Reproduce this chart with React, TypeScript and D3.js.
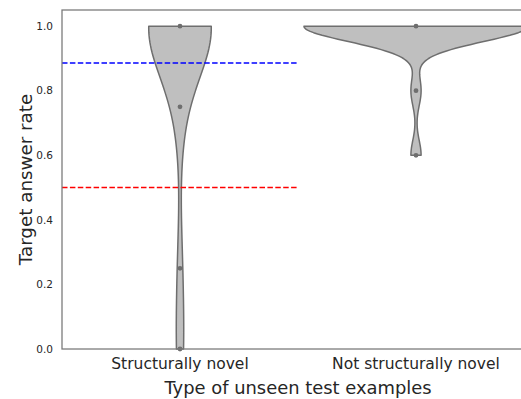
import React from 'react';
import * as d3 from 'd3';

const categories = ['Structurally novel', 'Not structurally novel'];
// answer rates per unseen test example
const structuralRates = [
  1, 1, 1, 1, 1, 1, 1, 1, 1, 1, 1, 1, 1, 1, 1, 1, 1, 1, 1, 1, 1, 1, 1, 1, 1, 1, 1, 1, 1, 1,
  0.75, 0.75, 0.75, 0.25, 0.25, 0.0, 0.0, 0.0,
];
const nonStructuralRates = [1, 1, 1, 1, 1, 1, 1, 1, 1, 1, 1, 1, 1, 1, 1, 1, 1, 1, 1, 1, 1, 1, 0.8, 0.6];
const yTicks = [0, 0.2, 0.4, 0.6, 0.8, 1.0];
const blueLine = 0.886;
const redLine = 0.5;

const W = 521;
const H = 399;
const margin = { top: 10, left: 62, bottom: 50 };
const plotRight = 534;

// gaussian kde with scott bandwidth, cut at data range
const kde = (values: number[]) => {
  const n = values.length;
  const sd = d3.deviation(values) || 0.01;
  const bw = sd * Math.pow(n, -1 / 5);
  const [lo, hi] = d3.extent(values) as [number, number];
  const grid = d3.range(100).map(i => lo + ((hi - lo) * i) / 99);
  return grid.map(y => {
    const dens = d3.sum(values, v => Math.exp(-0.5 * ((y - v) / bw) ** 2)) / (n * bw * Math.sqrt(2 * Math.PI));
    return { y, d: dens };
  });
};

export default function App() {
  const x = d3.scaleLinear().domain([-0.5, 1.5]).range([margin.left, plotRight]);
  const y = d3.scaleLinear().domain([0, 1.05]).range([H - margin.bottom, margin.top]);

  const groups = [structuralRates, nonStructuralRates];
  const dens = groups.map(kde);
  const maxD = d3.max(dens.flat(), p => p.d) as number;
  const halfWidth = 0.475;

  const area = (i: number) =>
    d3.area<{ y: number; d: number }>()
      .y(p => y(p.y))
      .x0(p => x(i - (p.d / maxD) * halfWidth))
      .x1(p => x(i + (p.d / maxD) * halfWidth))
      .curve(d3.curveLinear);

  const font = 'DejaVu Sans, sans-serif';
  const txt = '#262626';

  return (
    <svg width={W} height={H} style={{ position: 'absolute', left: 0, top: 0 }} fontFamily={font}>
      <rect width={W} height={H} fill="#fff" />
      {dens.map((dd, i) => (
        <g key={categories[i]}>
          <path d={area(i)(dd) as string} fill="#bfbfbf" stroke="#6e6e6e" strokeWidth={1.5} strokeLinejoin="round" />
          {Array.from(new Set(groups[i])).map((v, j) => (
            <circle key={j} cx={x(i)} cy={y(v)} r={2.4} fill="#6e6e6e" />
          ))}
        </g>
      ))}
      <line x1={x(-0.5)} x2={x(0.5)} y1={y(blueLine)} y2={y(blueLine)} stroke="#0000ff" strokeWidth={1.5} strokeDasharray="5.5,2.4" />
      <line x1={x(-0.5)} x2={x(0.5)} y1={y(redLine)} y2={y(redLine)} stroke="#ff0000" strokeWidth={1.5} strokeDasharray="5.5,2.4" />
      <rect x={margin.left} y={margin.top} width={plotRight - margin.left} height={H - margin.bottom - margin.top} fill="none" stroke="#777" strokeWidth={1.25} />
      {yTicks.map(t => (
        <text key={t} x={53} y={y(t)} dy="0.35em" textAnchor="end" fontSize={10.5} fill={txt}>
          {t.toFixed(1)}
        </text>
      ))}
      {categories.map((c, i) => (
        <text key={c} x={x(i)} y={369} textAnchor="middle" fontSize={15.5} fill={txt}>
          {c}
        </text>
      ))}
      <text x={(margin.left + plotRight) / 2} y={394} textAnchor="middle" fontSize={17.9} fill={txt}>
        Type of unseen test examples
      </text>
      <text transform={`translate(32, ${y(0.525)}) rotate(-90)`} textAnchor="middle" fontSize={18.3} fill={txt}>
        Target answer rate
      </text>
    </svg>
  );
}
